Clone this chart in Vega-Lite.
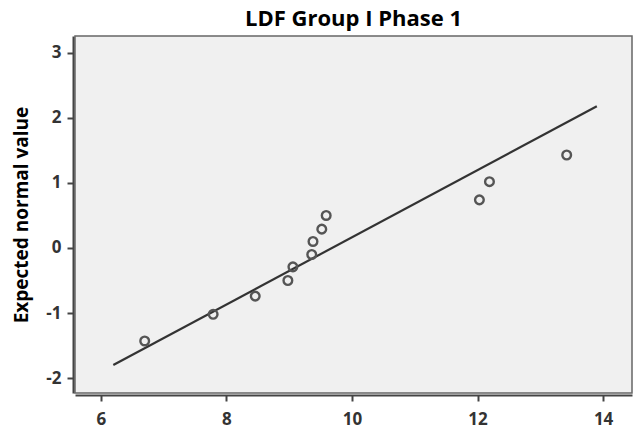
{
  "$schema": "https://vega.github.io/schema/vega-lite/v6.json",
  "width": 557,
  "height": 357,
  "autosize": "none",
  "padding": {"left": 75, "top": 36, "right": 3, "bottom": 45},
  "background": "white",
  "title": {"text": "LDF Group I Phase 1", "font": "Open Sans", "fontSize": 22, "fontWeight": "bold", "color": "#000", "offset": 5, "anchor": "middle"},
  "config": {
    "view": {"fill": "#f0f0f0", "stroke": "#666", "strokeWidth": 1.5},
    "axis": {"labelFont": "Open Sans", "labelFontSize": 17, "labelFontWeight": "bold", "labelColor": "#333", "domainColor": "#444", "domainWidth": 2, "tickColor": "#444", "tickWidth": 2, "tickSize": 6, "grid": false, "titleFont": "Open Sans", "titleFontSize": 19, "titleFontWeight": "bold", "titleColor": "#000", "offset": 2, "labelExpr": "datum.value + ''"}
  },
  "datasets": {
    "pts": [
      {"value": 6.70, "expected": -1.43},
      {"value": 7.79, "expected": -1.02},
      {"value": 8.46, "expected": -0.74},
      {"value": 8.98, "expected": -0.50},
      {"value": 9.06, "expected": -0.29},
      {"value": 9.36, "expected": -0.10},
      {"value": 9.38, "expected": 0.10},
      {"value": 9.52, "expected": 0.29},
      {"value": 9.59, "expected": 0.50},
      {"value": 12.03, "expected": 0.74},
      {"value": 12.19, "expected": 1.02},
      {"value": 13.42, "expected": 1.43}
    ],
    "line": [
      {"value": 6.2, "expected": -1.8},
      {"value": 13.9, "expected": 2.18}
    ]
  },
  "layer": [
    {
      "data": {"name": "line"},
      "mark": {"type": "line", "color": "#333", "strokeWidth": 2.2},
      "encoding": {
        "x": {"field": "value", "type": "quantitative", "scale": {"domain": [5.59, 14.46], "nice": false, "zero": false}, "axis": {"values": [6, 8, 10, 12, 14], "title": null, "labelPadding": 10}},
        "y": {"field": "expected", "type": "quantitative", "scale": {"domain": [-2.23, 3.26], "nice": false, "zero": false}, "axis": {"values": [-2, -1, 0, 1, 2, 3], "title": "Expected normal value", "titlePadding": 14, "labelPadding": 6}}
      }
    },
    {
      "data": {"name": "pts"},
      "mark": {"type": "point", "shape": "circle", "filled": false, "stroke": "#555", "strokeWidth": 2.4, "size": 75, "opacity": 1},
      "encoding": {
        "x": {"field": "value", "type": "quantitative"},
        "y": {"field": "expected", "type": "quantitative"}
      }
    }
  ]
}
